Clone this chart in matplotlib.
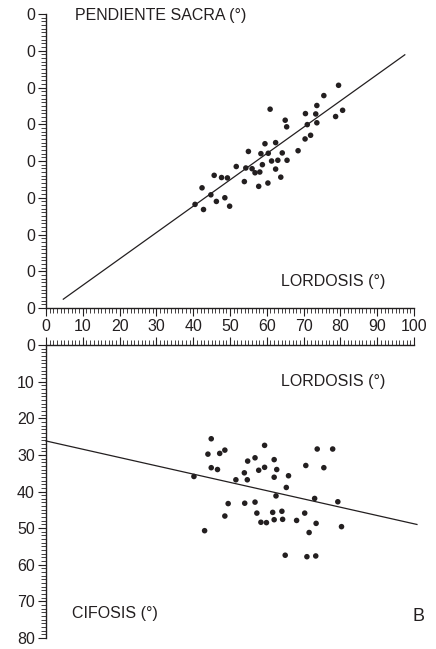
import matplotlib
matplotlib.use("Agg")
import matplotlib.pyplot as plt
from matplotlib.ticker import MultipleLocator

plt.rcParams['font.family'] = ['Liberation Sans', 'DejaVu Sans']

# ---- data: panel A (lordosis vs pendiente sacra) ----
lord_a = [79.5, 75.5, 73.6, 80.6, 60.9, 70.5, 73.3, 78.7, 65.0, 65.4, 71.0, 73.6,
          71.9, 70.4, 59.5, 62.4, 55.0, 58.4, 60.4, 64.2, 68.5, 61.3, 63.0, 65.5,
          58.8, 51.7, 54.3, 56.0, 62.4, 56.8, 58.1, 45.7, 47.7, 49.3, 63.8, 53.9,
          60.3, 57.8, 42.4, 44.8, 48.6, 46.3, 40.5, 49.9, 42.8]
sacra = [60.6, 57.8, 55.1, 53.8, 54.1, 52.9, 52.8, 52.1, 51.1, 49.3, 49.9, 50.4,
         47.0, 46.0, 44.7, 45.0, 42.6, 42.0, 42.1, 42.2, 42.8, 40.0, 40.2, 40.2,
         39.0, 38.5, 38.1, 37.9, 37.8, 36.8, 37.0, 36.1, 35.5, 35.4, 35.6, 34.4,
         34.0, 33.1, 32.7, 30.8, 30.0, 29.0, 28.2, 27.7, 26.8]
line_a_x = [4.7, 97.5]
line_a_y = [2.4, 68.9]

# ---- data: panel B (lordosis vs cifosis) ----
lord_b = [44.9, 59.4, 73.7, 77.9, 44.0, 47.2, 48.6, 54.8, 56.8, 62.0, 44.9, 46.6,
          53.9, 57.8, 59.4, 62.7, 70.6, 75.5, 40.2, 51.6, 54.7, 62.0, 65.9, 65.3,
          62.5, 73.0, 79.3, 49.5, 54.0, 56.8, 57.3, 61.6, 64.1, 70.3, 48.6, 58.4,
          59.9, 62.0, 64.3, 68.1, 73.4, 80.3, 71.5, 43.1, 65.0, 70.9, 73.3]
cifosis = [25.6, 27.4, 28.4, 28.4, 29.8, 29.6, 28.7, 31.7, 30.8, 31.3, 33.5, 34.0,
           34.9, 34.2, 33.4, 34.0, 32.9, 33.5, 35.9, 36.8, 36.8, 36.1, 35.7, 38.9,
           41.2, 41.9, 42.8, 43.3, 43.2, 42.9, 45.9, 45.7, 45.4, 45.9, 46.7, 48.4,
           48.5, 47.7, 47.6, 47.9, 48.7, 49.6, 51.2, 50.7, 57.4, 57.8, 57.6]
line_b_x = [0, 100.8]
line_b_y = [26.2, 49.0]

x_ticks = [0, 10, 20, 30, 40, 50, 60, 70, 80, 90, 100]
x_ticklabels = ['0', '10', '20', '30', '40', '50', '60', '70', '80', '90', '100']
ya_ticks = [0, 10, 20, 30, 40, 50, 60, 70, 80]
ya_ticklabels = ['0', '0', '0', '0', '0', '0', '0', '0', '0']
yb_ticks = [0, 10, 20, 30, 40, 50, 60, 70, 80]
yb_ticklabels = ['0', '10', '20', '30', '40', '50', '60', '70', '80']

INK = '#231f20'
FS = 11.5

fig = plt.figure(figsize=(4.36, 6.49), dpi=100)
fig.patch.set_facecolor('white')

W = 436.0
H = 649.0
axA = fig.add_axes([46 / W, 1 - 308 / H, 368 / W, 294 / H])
axB = fig.add_axes([46 / W, 1 - 638 / H, 368 / W, 293 / H])


def style(ax):
    for s in ax.spines.values():
        s.set_color(INK)
        s.set_linewidth(1.0)
    ax.tick_params(which='major', length=6, width=0.8, color=INK,
                   labelsize=FS, labelcolor=INK, pad=2)
    ax.tick_params(which='minor', length=3.5, width=0.6, color=INK)
    ax.xaxis.set_minor_locator(MultipleLocator(1))
    ax.yaxis.set_minor_locator(MultipleLocator(1))
    ax.set_facecolor('none')


# Panel A
axA.scatter(lord_a, sacra, s=16, color=INK, edgecolors='none', zorder=3, clip_on=False)
axA.plot(line_a_x, line_a_y, color=INK, lw=0.9, clip_on=False)
axA.set_xlim(0, 100)
axA.set_ylim(0, 80)
axA.spines['top'].set_visible(False)
axA.spines['right'].set_visible(False)
axA.set_xticks(x_ticks)
axA.set_xticklabels(x_ticklabels)
axA.set_yticks(ya_ticks)
axA.set_yticklabels(ya_ticklabels)
style(axA)
axA.text(8.0, 79.5, 'PENDIENTE SACRA (°)', fontsize=FS, color=INK, va='center', ha='left')
axA.text(63.8, 7.3, 'LORDOSIS (°)', fontsize=FS, color=INK, va='center', ha='left')

# Panel B
axB.scatter(lord_b, cifosis, s=16, color=INK, edgecolors='none', zorder=3, clip_on=False)
axB.plot(line_b_x, line_b_y, color=INK, lw=0.9, clip_on=False)
axB.set_xlim(0, 100)
axB.set_ylim(80, 0)
axB.spines['bottom'].set_visible(False)
axB.spines['right'].set_visible(False)
axB.xaxis.tick_top()
axB.set_xticks(x_ticks)
axB.set_xticklabels([])
axB.set_yticks(yb_ticks)
axB.set_yticklabels(yb_ticklabels)
style(axB)
axB.tick_params(axis='x', which='both', labeltop=False, top=True, bottom=False)
axB.text(63.8, 10.0, 'LORDOSIS (°)', fontsize=FS, color=INK, va='center', ha='left')
axB.text(7.0, 73.4, 'CIFOSIS (°)', fontsize=FS, color=INK, va='center', ha='left')
axB.text(99.6, 74.0, 'B', fontsize=13, color=INK, va='center', ha='left', clip_on=False)

fig.savefig('out.png', dpi=100)
